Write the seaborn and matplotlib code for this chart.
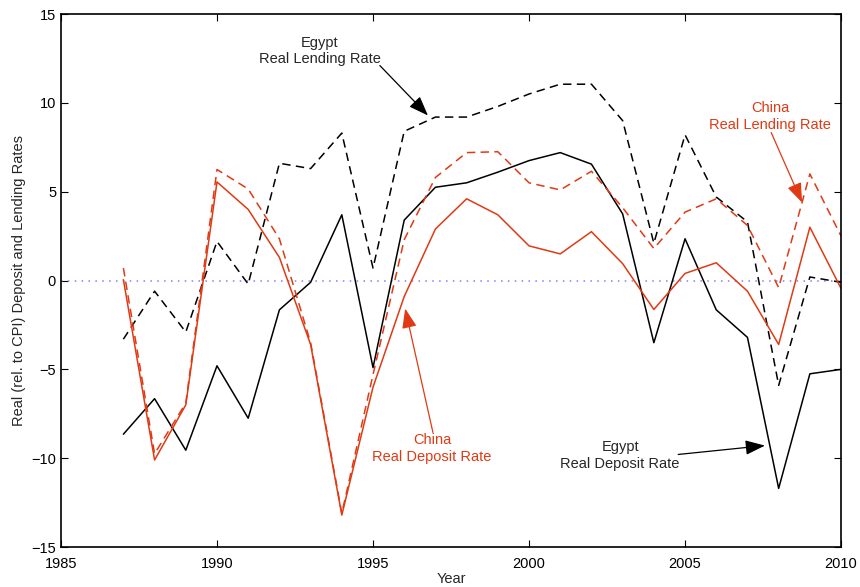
import numpy as np
import pandas as pd
import matplotlib
matplotlib.use("Agg")
import matplotlib.pyplot as plt
import seaborn as sns

# %% Data
years = list(range(1987, 2011))

egypt_lending = [-3.3, -0.6, -2.9, 2.2, -0.2, 6.6, 6.3, 8.3, 0.7, 8.4, 9.2, 9.2,
                 9.8, 10.5, 11.05, 11.05, 9.0, 2.1, 8.2, 4.7, 3.3, -5.9, 0.2, -0.1]
egypt_deposit = [-8.65, -6.65, -9.55, -4.8, -7.75, -1.65, -0.1, 3.7, -4.9, 3.4, 5.25, 5.5,
                 6.1, 6.75, 7.2, 6.55, 3.75, -3.5, 2.35, -1.65, -3.2, -11.7, -5.25, -5.0]
china_lending = [0.7, -9.75, -6.9, 6.25, 5.15, 2.35, -3.5, -13.1, -5.3, 2.3, 5.8, 7.2,
                 7.25, 5.5, 5.1, 6.15, 4.1, 1.8, 3.85, 4.6, 3.1, -0.4, 6.0, 2.5]
china_deposit = [0.05, -10.1, -7.0, 5.55, 4.0, 1.3, -3.6, -13.2, -6.0, -0.9, 2.9, 4.6,
                 3.7, 1.95, 1.5, 2.75, 0.95, -1.63, 0.4, 1.0, -0.6, -3.6, 3.0, -0.45]

x_ticks = [1985, 1990, 1995, 2000, 2005, 2010]
y_ticks = [-15, -10, -5, 0, 5, 10, 15]

red = "#e03a14"

# %% Plot
sns.set_style("ticks")
plt.rcParams["font.family"] = ["Liberation Sans", "DejaVu Sans"]

fig = plt.figure(figsize=(8.6, 5.87), dpi=100)
ax = fig.add_axes([0.0709, 0.0681, 0.9071, 0.9080])

ax.axhline(0, color="#7f7fff", linestyle=(0, (1, 3.5)), lw=1.1, zorder=1)

dash = (0, (5.5, 3.5))
sns.lineplot(x=years, y=egypt_lending, ax=ax, color="black", linestyle=dash, lw=1.1)
sns.lineplot(x=years, y=egypt_deposit, ax=ax, color="black", lw=1.1)
sns.lineplot(x=years, y=china_lending, ax=ax, color=red, linestyle=dash, lw=1.1)
sns.lineplot(x=years, y=china_deposit, ax=ax, color=red, lw=1.1)

ax.set_xlim(1985, 2010)
ax.set_ylim(-15, 15)
ax.set_xticks(x_ticks)
ax.set_yticks(y_ticks)
ax.set_yticklabels([str(v).replace("-", "\u2212") for v in y_ticks])
ax.tick_params(direction="in", top=True, right=True, length=5, width=0.8,
               labelsize=10.5, colors="black")
ax.tick_params(axis="x", pad=7)
for s in ax.spines.values():
    s.set_visible(True)
    s.set_linewidth(1.2)
    s.set_color("black")

ax.set_xlabel("Year", fontsize=10.5, labelpad=1)
ax.set_ylabel("Real (rel. to CPI) Deposit and Lending Rates", fontsize=10.5, labelpad=4)

# %% Annotations
arrow = dict(arrowstyle="-|>,head_length=0.8,head_width=0.3", lw=0.9,
             mutation_scale=15, shrinkA=0, shrinkB=0)

ax.text(1993.3, 12.94, "Egypt\nReal Lending Rate", ha="center", va="center",
        fontsize=10.5, linespacing=1.2)
ax.annotate("", xy=(1996.76, 9.29), xytext=(1995.22, 12.1),
            arrowprops=dict(arrow, color="black"))

ax.text(2007.72, 9.23, "China\nReal Lending Rate", ha="center", va="center",
        fontsize=10.5, linespacing=1.2, color=red)
ax.annotate("", xy=(2008.75, 4.39), xytext=(2007.76, 8.33),
            arrowprops=dict(arrow, color=red))

ax.text(1996.89, -9.45, "China\nReal Deposit Rate", ha="center", va="center",
        fontsize=10.5, linespacing=1.2, color=red)
ax.annotate("", xy=(1996.03, -1.58), xytext=(1996.92, -8.55),
            arrowprops=dict(arrow, color=red))

ax.text(2002.92, -9.85, "Egypt\nReal Deposit Rate", ha="center", va="center",
        fontsize=10.5, linespacing=1.2)
ax.annotate("", xy=(2007.56, -9.29), xytext=(2004.78, -9.79),
            arrowprops=dict(arrow, color="black"))

fig.savefig("out.png", dpi=100)
